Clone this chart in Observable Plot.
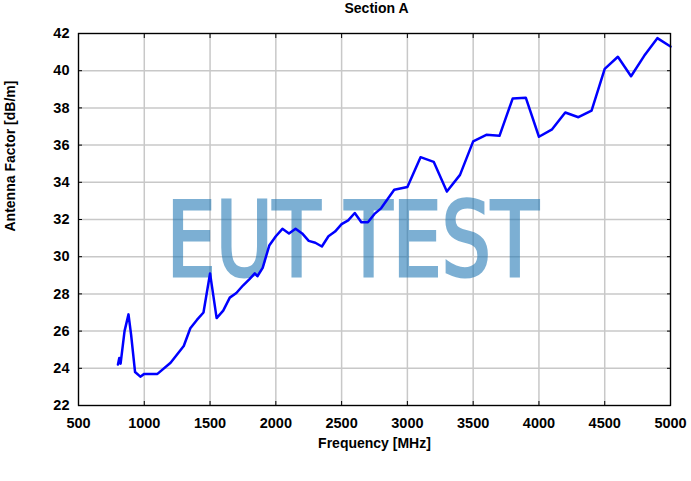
<!DOCTYPE html>
<html>
<head>
<meta charset="utf-8">
<script src="https://cdn.jsdelivr.net/npm/d3@7"></script>
<script src="https://cdn.jsdelivr.net/npm/@observablehq/plot@0.6"></script>
<style>
  html, body { margin: 0; padding: 0; background: #fff; }
</style>
</head>
<body>
<div id="chart"></div>
<script>
const titleText = "Section A";
const xLabel = "Frequency [MHz]";
const yLabel = "Antenna Factor [dB/m]";
const watermark = "EUT TEST";

const freqMHz = [800, 810, 820, 850, 880, 900, 930, 970, 1000, 1100, 1200, 1300, 1350, 1400, 1450, 1500, 1550, 1600, 1650, 1700, 1750, 1800, 1840, 1860, 1900, 1950, 2000, 2050, 2100, 2150, 2200, 2250, 2300, 2350, 2400, 2450, 2500, 2550, 2600, 2650, 2700, 2750, 2800, 2850, 2900, 3000, 3100, 3200, 3300, 3400, 3500, 3600, 3700, 3800, 3900, 4000, 4100, 4200, 4300, 4400, 4500, 4600, 4700, 4800, 4900, 5000];
const antennaFactor = [24.2, 24.55, 24.25, 26.0, 26.9, 25.8, 23.8, 23.55, 23.7, 23.7, 24.3, 25.2, 26.15, 26.6, 27.0, 29.1, 26.7, 27.1, 27.8, 28.05, 28.45, 28.8, 29.1, 28.95, 29.4, 30.6, 31.1, 31.5, 31.25, 31.5, 31.25, 30.85, 30.75, 30.55, 31.1, 31.35, 31.75, 31.95, 32.35, 31.85, 31.85, 32.3, 32.6, 33.1, 33.6, 33.75, 35.35, 35.1, 33.5, 34.4, 36.2, 36.55, 36.5, 38.5, 38.55, 36.45, 36.85, 37.75, 37.5, 37.85, 40.1, 40.75, 39.7, 40.8, 41.75, 41.3];
const xTicks = [500, 1000, 1500, 2000, 2500, 3000, 3500, 4000, 4500, 5000];
const yTicks = [22, 24, 26, 28, 30, 32, 34, 36, 38, 40, 42];

const data = freqMHz.map((f, i) => ({f, af: antennaFactor[i]}));
const fmt = d => String(d);

const chart = Plot.plot({
  width: 691,
  height: 481,
  marginLeft: 78,
  marginRight: 21,
  marginTop: 33,
  marginBottom: 76,
  style: {fontFamily: "'Liberation Sans', Arial, sans-serif", fontSize: "14.5px", fontWeight: "bold", color: "#000", background: "#fff"},
  x: {domain: [500, 5000]},
  y: {domain: [22, 42]},
  marks: [
    Plot.gridX(xTicks, {stroke: "#c8c8c8", strokeOpacity: 1, strokeWidth: 1.5}),
    Plot.gridY(yTicks, {stroke: "#c8c8c8", strokeOpacity: 1, strokeWidth: 1.5}),
    Plot.text([watermark], {frameAnchor: "middle", dx: -22, dy: 23, fontSize: 104, fontFamily: "'DejaVu Sans Condensed', 'DejaVu Sans', sans-serif", fontWeight: "normal", fill: "#1f77b4", stroke: "#1f77b4", strokeWidth: 3, strokeLinejoin: "miter", opacity: 0.58}),
    Plot.line(data, {x: "f", y: "af", stroke: "#0000ff", strokeWidth: 2.5}),
    Plot.axisX(xTicks, {anchor: "bottom", tickSize: -4, tickPadding: 16, tickFormat: fmt, label: null, fontSize: 14.5}),
    Plot.axisX(xTicks, {anchor: "top", tickSize: -4, tickFormat: () => "", label: null}),
    Plot.axisY(yTicks, {anchor: "left", tickSize: -4, tickPadding: 13, tickFormat: fmt, label: null, fontSize: 14.5}),
    Plot.axisY(yTicks, {anchor: "right", tickSize: -4, tickFormat: () => "", label: null}),
    Plot.frame({stroke: "#000", strokeWidth: 1.3}),
    Plot.text([titleText], {frameAnchor: "top", lineAnchor: "middle", dx: 2, dy: -25, fontSize: 14, fontWeight: "bold"}),
    Plot.text([xLabel], {frameAnchor: "bottom", lineAnchor: "middle", dy: 38, fontSize: 14, fontWeight: "bold"}),
    Plot.text([yLabel], {frameAnchor: "left", dx: -68, dy: 12, rotate: -90, fontSize: 14, fontWeight: "bold"})
  ]
});

d3.select(chart).selectAll("text").filter(function() { return this.textContent === watermark; })
  .attr("textLength", 372).attr("lengthAdjust", "spacingAndGlyphs");

document.getElementById("chart").appendChild(chart);
</script>
</body>
</html>
